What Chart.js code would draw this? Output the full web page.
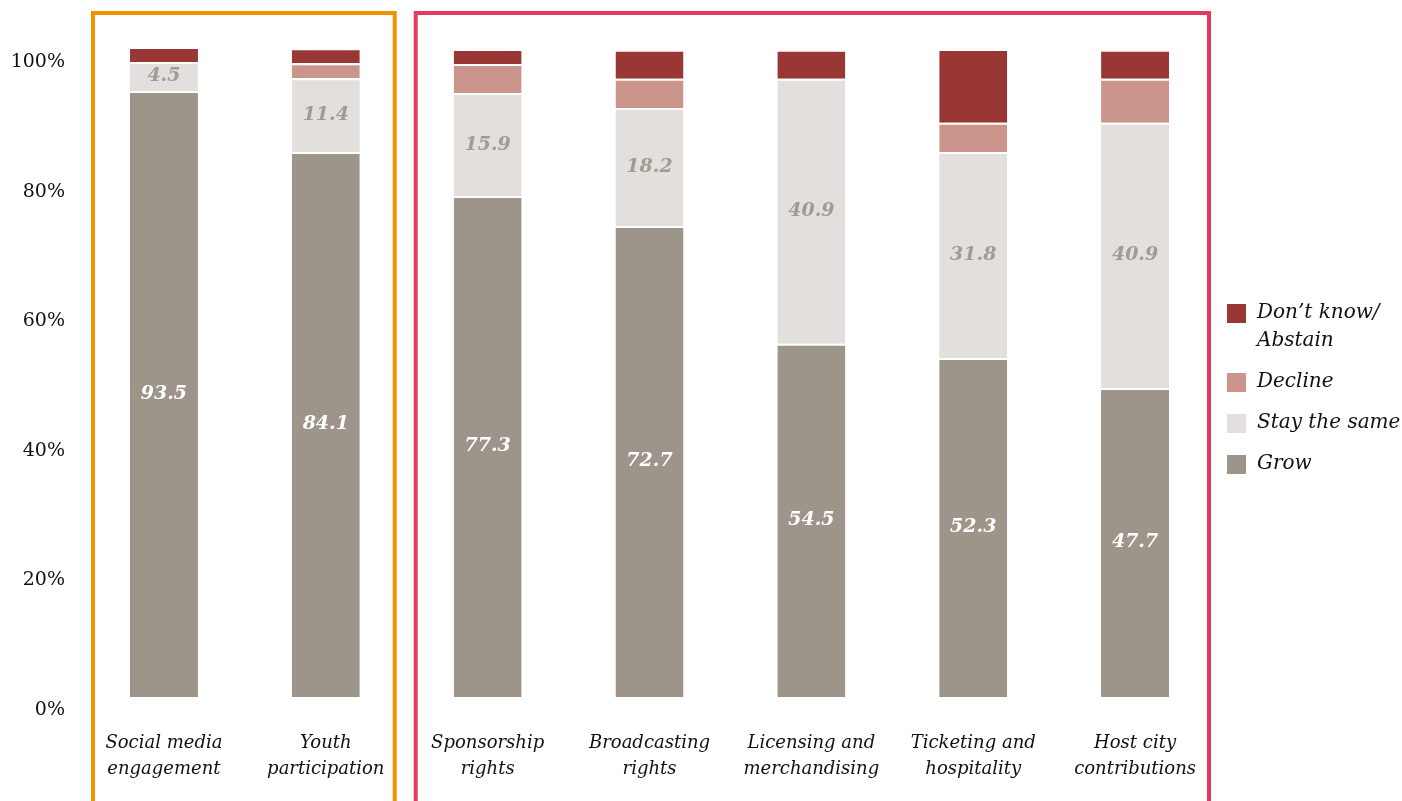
<!DOCTYPE html>
<html>
<head>
<meta charset="utf-8">
<script src="https://cdn.jsdelivr.net/npm/chart.js@4.4.1/dist/chart.umd.min.js"></script>
<style>
  html, body { margin: 0; padding: 0; background: #fff; }
  #wrap { width: 1402px; height: 801px; }
</style>
</head>
<body>
<div id="wrap"><canvas id="chart"></canvas></div>
<script>
const categories = [
  ['Social media', 'engagement'],
  ['Youth', 'participation'],
  ['Sponsorship', 'rights'],
  ['Broadcasting', 'rights'],
  ['Licensing and', 'merchandising'],
  ['Ticketing and', 'hospitality'],
  ['Host city', 'contributions']
];
const grow = [93.5, 84.1, 77.3, 72.7, 54.5, 52.3, 47.7];
const staySame = [4.5, 11.4, 15.9, 18.2, 40.9, 31.8, 40.9];
const decline = [0, 2.3, 4.5, 4.5, 0, 4.5, 6.8];
const dontKnow = [2.3, 2.3, 2.3, 4.5, 4.5, 11.4, 4.5];
const yTicks = [0, 20, 40, 60, 80, 100];

const SERIF = '"DejaVu Serif", "Liberation Serif", serif';

// values printed inside the grow / stay segments
const segmentLabels = {
  id: 'segmentLabels',
  afterDatasetsDraw(chart) {
    const ctx = chart.ctx;
    ctx.save();
    ctx.textAlign = 'center';
    ctx.textBaseline = 'middle';
    ctx.font = 'italic bold 19px ' + SERIF;
    [0, 1].forEach(di => {
      const meta = chart.getDatasetMeta(di);
      ctx.fillStyle = di === 0 ? '#ffffff' : '#a39b93';
      meta.data.forEach((bar, i) => {
        const v = chart.data.datasets[di].data[i];
        ctx.fillText(v.toFixed(1), bar.x, (bar.y + bar.base) / 2);
      });
    });
    ctx.restore();
  }
};

// the two outlined groups of categories
const groupBoxes = {
  id: 'groupBoxes',
  afterDraw(chart) {
    const ctx = chart.ctx;
    const x = chart.scales.x;
    const step = x.getPixelForValue(1) - x.getPixelForValue(0);
    const groups = [
      { from: 0, to: 1, color: '#f39200', inL: 10, inR: 12 },
      { from: 2, to: 6, color: '#e5395f', inL: 9, inR: 7 }
    ];
    ctx.save();
    ctx.lineWidth = 4;
    groups.forEach(g => {
      const left = x.getPixelForValue(g.from) - step / 2 + g.inL;
      const right = x.getPixelForValue(g.to) + step / 2 - g.inR;
      ctx.strokeStyle = g.color;
      ctx.beginPath();
      ctx.moveTo(left, 812);
      ctx.lineTo(left, 13);
      ctx.lineTo(right, 13);
      ctx.lineTo(right, 812);
      ctx.stroke();
    });
    ctx.restore();
  }
};

// legend on the right, top series first
const sideLegend = {
  id: 'sideLegend',
  afterDraw(chart) {
    const ctx = chart.ctx;
    const items = [
      { ds: 3, lines: ['Don\u2019t know/', 'Abstain'] },
      { ds: 2, lines: ['Decline'] },
      { ds: 1, lines: ['Stay the same'] },
      { ds: 0, lines: ['Grow'] }
    ];
    let y = 313;
    ctx.save();
    ctx.font = 'italic 20px ' + SERIF;
    ctx.textBaseline = 'middle';
    ctx.textAlign = 'left';
    items.forEach(it => {
      ctx.fillStyle = chart.data.datasets[it.ds].backgroundColor;
      ctx.fillRect(1227, y - 9, 19, 19);
      ctx.fillStyle = '#111';
      it.lines.forEach((t, k) => ctx.fillText(t, 1257, y + k * 28));
      y += (it.lines.length - 1) * 28 + 41;
    });
    ctx.restore();
  }
};

const mk = (label, data, color) => ({
  label, data, backgroundColor: color,
  borderColor: '#ffffff', borderWidth: { top: 2 }, borderSkipped: false,
  barPercentage: 0.42, categoryPercentage: 1, clip: false
});

new Chart(document.getElementById('chart'), {
  type: 'bar',
  data: {
    labels: categories,
    datasets: [
      mk('Grow', grow, '#9d948a'),
      mk('Stay the same', staySame, '#e2dfdc'),
      mk('Decline', decline, '#cc958c'),
      mk('Don\u2019t know/ Abstain', dontKnow, '#993735')
    ]
  },
  options: {
    responsive: true,
    maintainAspectRatio: false,
    animation: false,
    layout: { padding: { top: 49, right: 186, bottom: 0, left: 0 } },
    plugins: {
      legend: { display: false },
      tooltip: { enabled: false }
    },
    scales: {
      x: {
        stacked: true,
        grid: { display: false, drawTicks: false },
        border: { display: false },
        ticks: {
          color: '#111',
          padding: 33,
          maxRotation: 0,
          autoSkip: false,
          font: { family: SERIF, style: 'italic', size: 18, lineHeight: 1.45 }
        },
        afterFit: s => { s.height = 104; }
      },
      y: {
        stacked: true,
        min: 0,
        max: 100,
        grid: { display: false, drawTicks: false },
        border: { display: false },
        afterBuildTicks: s => { s.ticks = yTicks.map(v => ({ value: v })); },
        ticks: {
          color: '#111',
          padding: 18,
          labelOffset: 13,
          font: { family: SERIF, size: 19 },
          callback: v => v + '%'
        },
        afterFit: s => { s.width = 83; }
      }
    }
  },
  plugins: [segmentLabels, groupBoxes, sideLegend]
});
</script>
</body>
</html>
